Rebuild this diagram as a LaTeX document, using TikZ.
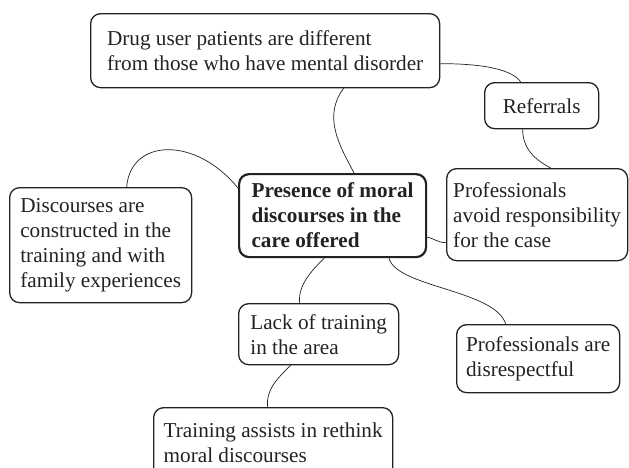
\documentclass[tikz,border=0pt]{standalone}
\usepackage{fontspec}
\setmainfont{Liberation Serif}
\definecolor{Ink}{HTML}{222222}

\begin{document}
\begin{tikzpicture}[x=1pt,y=-1pt,
  idea/.style={draw=Ink,text=Ink,line width=1.3pt,rounded corners=10pt,anchor=north west,align=left,inner sep=2pt,font=\fontsize{21.2}{25}\selectfont},
  link/.style={draw=Ink,line width=0.7pt}]
\clip (0,0) rectangle (629,467);
% boxes
\node[idea,minimum width=349pt,minimum height=74pt] (drug) at (90,13) {Drug user patients are different\\from those who have mental disorder};
\node[idea,align=center,minimum width=114pt,minimum height=46pt] (referrals) at (484,82) {Referrals};
\node[idea,line width=2.2pt,font=\fontsize{21.2}{25}\selectfont\bfseries,minimum width=187pt,minimum height=83pt] (moral) at (238,173) {Presence of moral\\discourses in the\\care offered};
\node[idea,minimum width=182pt,minimum height=115pt] (discourses) at (9,187) {Discourses are\\constructed in the\\training and with\\family experiences};
\node[idea,minimum width=181pt,minimum height=92pt] (avoid) at (446,168) {Professionals\\avoid responsibility\\for the case};
\node[idea,minimum width=160pt,minimum height=61pt] (lack) at (238,303) {Lack of training\\in the area};
\node[idea,minimum width=163pt,minimum height=68pt] (disrespect) at (456,324) {Professionals are\\disrespectful};
\node[idea,minimum width=239pt,minimum height=71pt] (training) at (153,407) {Training assists in rethink\\moral discourses};
% connectors
\draw[link] ([yshift=-13pt]drug.east) .. controls +(45,0) and +(-8,-12) .. ([xshift=-21pt]referrals.north);
\draw[link] ([xshift=-19pt]referrals.south) .. controls +(0,20) and +(-15,-8) .. ([xshift=13.5pt]avoid.north);
\draw[link] ([xshift=78.5pt]drug.south) .. controls +(-21,28) and +(-15,-28) .. ([xshift=21.5pt]moral.north);
\draw[link] ([xshift=26pt]discourses.north) .. controls +(4,-49) and +(-42,-52) .. ([yshift=27.5pt]moral.west);
\draw[link] ([yshift=-21.5pt]moral.east) .. controls +(8,2) and +(-8,0) .. ([yshift=-28pt]avoid.west);
\draw[link] ([xshift=56.5pt]moral.south) .. controls +(7,29) and +(-10,-34) .. ([xshift=-32.5pt]disrespect.north);
\draw[link] ([xshift=-8.5pt]moral.south) .. controls +(-12,12) and +(-2,-18) .. ([xshift=-19pt]lack.north);
\draw[link] ([xshift=-28pt]lack.south) .. controls +(-12,12) and +(-2,-18) .. ([xshift=-5.5pt]training.north);
\end{tikzpicture}
\end{document}
